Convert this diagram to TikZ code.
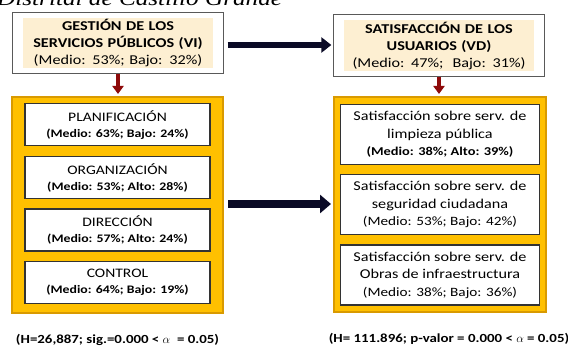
\documentclass[tikz,border=0pt]{standalone}
\usepackage{fontspec}
\setmainfont[FakeStretch=1.2]{Carlito}
\newfontfamily\serifit[FakeStretch=1.2]{Liberation Serif}
\usetikzlibrary{positioning,fit,arrows.meta}

\definecolor{crema}{HTML}{FDEFD2}
\definecolor{naranja}{HTML}{FFC000}
\definecolor{naranjaosc}{HTML}{D99A00}
\definecolor{rojo}{HTML}{8E0A0A}
\definecolor{azuloscuro}{HTML}{0A0A26}
\definecolor{borde}{HTML}{333333}

\tikzstyle{headbox} = [fill=crema, text width=186pt, minimum width=190pt, minimum height=50pt, inner sep=0pt, align=center, font=\fontsize{13.5}{17}\selectfont\bfseries]
\tikzstyle{headframe} = [draw=black!65, line width=0.9pt, inner xsep=10pt, inner ysep=5pt]
\tikzstyle{panel} = [fill=naranja, draw=naranjaosc, line width=2pt]
\tikzstyle{dimbox} = [draw=borde, fill=white, line width=1.2pt, align=center, minimum width=185pt, minimum height=42pt, inner sep=0pt, font=\fontsize{13}{16}\selectfont]
\tikzstyle{satbox} = [draw=borde, fill=white, line width=1.2pt, align=center, minimum width=199pt, minimum height=60pt, inner sep=0pt, font=\fontsize{13.5}{17.5}\selectfont]
\tikzstyle{bajada} = [draw=rojo, line width=3.5pt, -{Triangle[length=8pt,width=11pt]}, shorten >=2pt]
\tikzstyle{flecha} = [draw=azuloscuro, shorten <=4pt, shorten >=2pt]
\tikzstyle{prueba} = [inner sep=0pt, font=\fontsize{12.4}{15}\selectfont\bfseries]

\begin{document}
\begin{tikzpicture}[x=1pt, y=-1pt]
	\useasboundingbox (0,0) rectangle (568,347);
	\clip (0,0) rectangle (568,347);
	\node[anchor=base west, inner sep=0pt, font=\serifit\itshape\fontsize{21}{21}\selectfont] (titulo) at (-3,5.5) {Distrital de Castillo Grande};

	% variables
	\node[headbox] (lhead) at (118,43) {GESTIÓN DE LOS\\SERVICIOS PÚBLICOS (VI)\\\mdseries (Medio: 53\%; Bajo: 32\%)};
	\node[headframe, fit=(lhead)] (lframe) {};
	\node[headbox, minimum height=51pt] (rhead) at (439,45.5) {SATISFACCIÓN DE LOS\\USUARIOS (VD)\\\mdseries (Medio: 47\%;\ \ Bajo: 31\%)};
	\node[headframe, fit=(rhead)] (rframe) {};

	% dimensiones
	\node[panel, minimum width=211pt, minimum height=216pt] (lpanel) at (117.5,205) {};
	\node[dimbox, below=7pt of lpanel.north] (lb1) {PLANIFICACIÓN\\{\fontsize{11.5}{16}\selectfont\bfseries (Medio: 63\%; Bajo: 24\%)}};
	\node[dimbox, below=10pt of lb1] (lb2) {ORGANIZACIÓN\\{\fontsize{11.5}{16}\selectfont\bfseries (Medio: 53\%; Alto: 28\%)}};
	\node[dimbox, below=9pt of lb2] (lb3) {DIRECCIÓN\\{\fontsize{11.5}{16}\selectfont\bfseries (Medio: 57\%; Alto: 24\%)}};
	\node[dimbox, below=9pt of lb3] (lb4) {CONTROL\\{\fontsize{11.5}{16}\selectfont\bfseries (Medio: 64\%; Bajo: 19\%)}};

	\node[panel, minimum width=212pt, minimum height=215pt] (rpanel) at (440,204.5) {};
	\node[satbox, below=8pt of rpanel.north] (rb1) {Satisfacción sobre serv. de\\limpieza pública\\{\fontsize{12}{17.5}\selectfont\bfseries (Medio: 38\%; Alto: 39\%)}};
	\node[satbox, below=9pt of rb1] (rb2) {Satisfacción sobre serv. de\\seguridad ciudadana\\{\fontsize{12.7}{17.5}\selectfont (Medio: 53\%; Bajo: 42\%)}};
	\node[satbox, below=9pt of rb2] (rb3) {Satisfacción sobre serv. de\\Obras de infraestructura\\{\fontsize{12.7}{17.5}\selectfont (Medio: 38\%; Bajo: 36\%)}};

	% pruebas
	\node[prueba, below=20pt of lpanel] (lprueba) {(H=26,887; sig.=0.000 < $\alpha$\ \ = 0.05)};
	\node[prueba, below=20pt of rpanel, xshift=9pt] (rprueba) {(H= 111.896; p-valor = 0.000 < $\alpha$ = 0.05)};

	% flechas
	\draw[bajada] (lframe.south) -- (lframe.south |- lpanel.north);
	\draw[bajada] (rframe.south) -- (rframe.south |- rpanel.north);
	\draw[flecha, line width=5.5pt, -{Triangle[length=10pt,width=15pt]}] ([yshift=-2pt]lframe.east) -- ([yshift=-2pt]lframe.east -| rframe.west);
	\draw[flecha, line width=7.5pt, -{Triangle[length=11pt,width=18pt]}] ([yshift=1pt]lpanel.east) -- ([yshift=1pt]lpanel.east -| rpanel.west);
\end{tikzpicture}
\end{document}
